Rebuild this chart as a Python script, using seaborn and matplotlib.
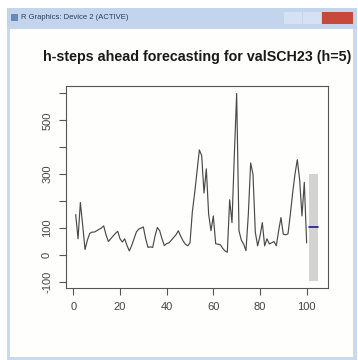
"""
Screenshot-style recreation of an R forecast plot window.
"""

import numpy as np
import pandas as pd
import matplotlib.pyplot as plt
import seaborn as sns
from matplotlib.patches import Rectangle

sns.set_theme(style="ticks")
plt.rcParams["font.family"] = ["Liberation Sans", "DejaVu Sans"]

obs_values = [
    150, 60, 195, 110, 20, 55, 80, 85, 85, 90,
    95, 100, 108, 75, 50, 60, 70, 80, 88, 60,
    48, 60, 35, 15, 35, 60, 85, 96, 100, 104,
    60, 28, 30, 28, 70, 102, 90, 60, 35, 42,
    45, 55, 65, 75, 90, 70, 53, 40, 34, 45,
    160, 230, 310, 390, 370, 230, 320, 150, 90, 145,
    42, 40, 38, 25, 15, 10, 205, 120, 370, 600,
    90, 55, 40, 16, 150, 342, 300, 84, 34, 70,
    120, 34, 60, 41, 45, 50, 34, 90, 139, 77,
    75, 78, 150, 230, 300, 354, 280, 145, 270, 45,
]
# h=5 forecast
fc_mean = [105, 105, 105, 105, 105]
fc_lower = [-95, -95, -95, -95, -95]
fc_upper = [300, 300, 300, 300, 300]

x_ticks = [0, 20, 40, 60, 80, 100]
y_ticks = [-100, 0, 100, 200, 300, 400, 500, 600]
y_tick_labels = ["-100", "0", "100", "", "300", "", "500", ""]

obs_df = pd.DataFrame({"t": np.arange(1, len(obs_values) + 1), "value": obs_values})
fc_df = pd.DataFrame(
    {
        "t": np.arange(len(obs_values) + 1, len(obs_values) + len(fc_mean) + 1),
        "mean": fc_mean,
        "lower": fc_lower,
        "upper": fc_upper,
    }
)

W, H = 358, 360
fig = plt.figure(figsize=(W / 100, H / 100), dpi=100)
fig.patch.set_facecolor("white")


def box(x0, y0, x1, y1, color, z=-10):
    # pixel box (top-left origin) -> figure fraction rectangle
    fig.patches.append(
        Rectangle(
            (x0 / W, 1 - y1 / H),
            (x1 - x0) / W,
            (y1 - y0) / H,
            transform=fig.transFigure,
            facecolor=color,
            edgecolor="none",
            zorder=z,
        )
    )


# window chrome
box(7, 8, 357, 360, "#c9daee")
box(10, 29, 353, 357, "#fefefc")
box(7, 8, 357, 29, "#c3d5ec")
box(11, 14, 18, 21, "#6a88b8")
box(284, 12, 302, 24, "#d6e2f1")
box(303, 12, 321, 24, "#d6e2f1")
box(322, 12, 353, 24, "#c6493c")
fig.text(21 / W, 1 - 17.5 / H, "R Graphics: Device 2 (ACTIVE)", fontsize=5.5,
         color="#2a3d5c", va="center", ha="left")

ax = fig.add_axes([66 / W, 1 - 288 / H, (328 - 66) / W, (288 - 86) / H])
ax.set_zorder(5)
ax.set_facecolor("#fefefc")

# prediction interval band and point forecast
ax.fill_between(fc_df["t"], fc_df["lower"], fc_df["upper"], color="#d3d3d3", linewidth=0)
sns.lineplot(data=obs_df, x="t", y="value", color="#4a4a4a", linewidth=0.85, ax=ax)
sns.lineplot(data=fc_df, x="t", y="mean", color="#1c1c8a", linewidth=1.2, ax=ax)

n_total = len(obs_values) + len(fc_mean)
pad_x = 0.04 * (n_total - 1)
ax.set_xlim(1 - pad_x, n_total + pad_x)
y_lo = min(min(obs_values), min(fc_lower))
y_hi = max(max(obs_values), max(fc_upper))
pad_y = 0.04 * (y_hi - y_lo)
ax.set_ylim(y_lo - pad_y, y_hi + pad_y)

ax.set_xticks(x_ticks)
ax.set_yticks(y_ticks)
ax.set_yticklabels(y_tick_labels, rotation=90, va="center")
ax.set_xlabel("")
ax.set_ylabel("")
ax.tick_params(axis="both", direction="out", length=5, width=0.8, colors="#555555",
               labelsize=8, labelcolor="#444444", pad=5)
for s in ax.spines.values():
    s.set_color("#555555")
    s.set_linewidth(0.8)

ax.set_title("h-steps ahead forecasting for valSCH23 (h=5)", fontsize=10.3,
             fontweight="bold", color="#1a1a1a", pad=18)

fig.savefig("out.png", dpi=100)
